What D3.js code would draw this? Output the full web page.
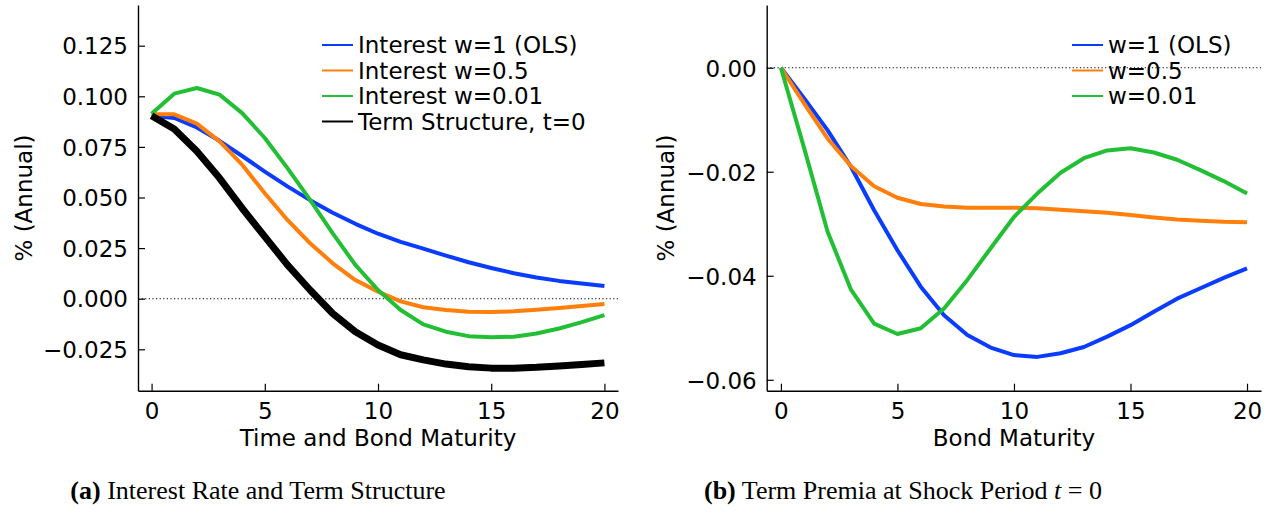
<!DOCTYPE html>
<html>
<head>
<meta charset="utf-8">
<script src="https://cdn.jsdelivr.net/npm/d3@7"></script>
<style>
  html, body { margin: 0; padding: 0; background: #fff; }
  svg { display: block; }
  .tick text, .lbl, .leg { font-family: "DejaVu Sans", sans-serif; font-size: 23px; fill: #000; }
  .cap { font-family: "Liberation Serif", serif; font-size: 26px; fill: #000; }
</style>
</head>
<body>
<svg id="chart" width="1274" height="517"></svg>
<script>
// ---------- data ----------
const maturities = [0,1,2,3,4,5,6,7,8,9,10,11,12,13,14,15,16,17,18,19,20];

// Panel (a): Interest Rate and Term Structure
const interestOLS = [0.0904,0.0893,0.0846,0.0780,0.0705,0.0628,0.0555,0.0487,0.0425,0.0370,0.0321,0.0281,0.0247,0.0213,0.0180,0.0152,0.0126,0.0105,0.0088,0.0075,0.0063];
const interestW05 = [0.0911,0.0911,0.0865,0.0777,0.0662,0.0521,0.0389,0.0274,0.0175,0.0092,0.0035,-0.0013,-0.0042,-0.0056,-0.0065,-0.0066,-0.0062,-0.0055,-0.0046,-0.0036,-0.0026];
const interestW001 = [0.0914,0.1013,0.1041,0.1008,0.0917,0.0794,0.0645,0.0488,0.0323,0.0167,0.0043,-0.0056,-0.0127,-0.0163,-0.0185,-0.0191,-0.0188,-0.0172,-0.0147,-0.0116,-0.0081];
const termStructure = [0.0904,0.0838,0.0728,0.0596,0.0447,0.0307,0.0167,0.0043,-0.0073,-0.0163,-0.0229,-0.0277,-0.0302,-0.0323,-0.0336,-0.0343,-0.0343,-0.0339,-0.0332,-0.0325,-0.0317];

// Panel (b): Term Premia at Shock Period t = 0
const premiaOLS = [0,-0.0059,-0.0120,-0.0190,-0.0274,-0.0351,-0.0421,-0.0476,-0.0514,-0.0538,-0.05525,-0.0556,-0.0549,-0.0537,-0.0517,-0.0495,-0.0469,-0.0444,-0.0424,-0.0404,-0.0386];
const premiaW05 = [0,-0.0069,-0.0136,-0.0189,-0.0228,-0.0250,-0.0262,-0.0267,-0.0269,-0.0269,-0.0269,-0.0270,-0.0273,-0.0276,-0.0279,-0.0283,-0.0288,-0.0292,-0.0294,-0.0296,-0.0297];
const premiaW001 = [0,-0.0155,-0.0315,-0.0426,-0.0492,-0.0512,-0.0501,-0.0463,-0.0408,-0.0347,-0.0287,-0.0242,-0.0202,-0.0174,-0.0159,-0.0155,-0.0163,-0.0177,-0.0197,-0.0218,-0.0242];

const leftLegend = ["Interest w=1 (OLS)","Interest w=0.5","Interest w=0.01","Term Structure, t=0"];
const rightLegend = ["w=1 (OLS)","w=0.5","w=0.01"];
const xTicks = [0,5,10,15,20];
const leftYTicks = [-0.025,0,0.025,0.05,0.075,0.1,0.125];
const rightYTicks = [-0.06,-0.04,-0.02,0];
const xLabelLeft = "Time and Bond Maturity";
const xLabelRight = "Bond Maturity";
const yLabel = "% (Annual)";

// ---------- styling ----------
const BLUE = "#0a3cff", ORANGE = "#ff7f0a", GREEN = "#22bf35", BLACK = "#000000";

const svg = d3.select("#chart");

function panel(cfg) {
  const g = svg.append("g");
  const x = d3.scaleLinear().domain(cfg.xDomain).range(cfg.xRange);
  const y = d3.scaleLinear().domain(cfg.yDomain).range([390.7, 5]);

  // zero reference line
  g.append("line")
    .attr("x1", cfg.xRange[0]).attr("x2", cfg.xRange[1])
    .attr("y1", y(0)).attr("y2", y(0))
    .attr("stroke", "#000").attr("stroke-width", 1.1)
    .attr("stroke-dasharray", "1.2,2.4");

  const line = d3.line().x((d, i) => x(maturities[i])).y(d => y(d));
  cfg.series.forEach(s => {
    g.append("path").datum(s.values)
      .attr("d", line).attr("fill", "none")
      .attr("stroke", s.color).attr("stroke-width", s.width)
      .attr("stroke-linejoin", "round").attr("stroke-linecap", "butt");
  });

  // axes
  const ya = g.append("g").attr("transform", `translate(${cfg.xRange[0]},0)`)
    .call(d3.axisLeft(y).tickValues(cfg.yTicks).tickFormat(d3.format(cfg.yFmt))
      .tickSizeInner(-7).tickSizeOuter(0).tickPadding(10));
  const xa = g.append("g").attr("transform", `translate(0,390.7)`)
    .call(d3.axisBottom(x).tickValues(xTicks).tickFormat(d3.format("d"))
      .tickSizeInner(-7).tickSizeOuter(0).tickPadding(12));
  [ya, xa].forEach(a => {
    a.select(".domain").attr("stroke", "#000").attr("stroke-width", 1.4);
    a.selectAll(".tick line").attr("stroke", "#000").attr("stroke-width", 1.2);
    a.selectAll(".tick text").attr("font-family", null).attr("font-size", null);
  });
  xa.selectAll(".tick text").attr("dy", "0.71em");
  ya.selectAll(".tick text").attr("dy", "0.36em");

  // axis titles
  g.append("text").attr("class", "lbl")
    .attr("x", (x(0) + x(20)) / 2).attr("y", 446)
    .attr("text-anchor", "middle").text(cfg.xLabel);
  g.append("text").attr("class", "lbl")
    .attr("transform", `translate(${cfg.yLabelX},198) rotate(-90)`)
    .attr("text-anchor", "middle").attr("dy", "0.36em").text(yLabel);

  // legend
  cfg.legend.forEach((name, i) => {
    const ly = 45 + i * 25.5;
    g.append("line").attr("x1", cfg.legX).attr("x2", cfg.legX + 31)
      .attr("y1", ly).attr("y2", ly)
      .attr("stroke", cfg.series[i].color).attr("stroke-width", 2);
    g.append("text").attr("class", "leg")
      .attr("x", cfg.legX + 36).attr("y", ly).attr("dy", "0.36em").text(name);
  });

  // caption
  const cap = g.append("text").attr("class", "cap")
    .attr("x", cfg.capX).attr("y", 499).attr("text-anchor", "middle");
  cfg.caption(cap);
}

panel({
  xDomain: [-0.6, 20.6], xRange: [138, 618],
  yDomain: [-0.04545, 0.1451], yTicks: leftYTicks, yFmt: ".3f",
  series: [
    { values: interestOLS, color: BLUE, width: 4 },
    { values: interestW05, color: ORANGE, width: 4 },
    { values: interestW001, color: GREEN, width: 4 },
    { values: termStructure, color: BLACK, width: 7 }
  ],
  legend: leftLegend, legX: 322,
  xLabel: xLabelLeft, yLabelX: 24,
  capX: 258,
  caption: t => {
    t.append("tspan").attr("font-weight", "bold").text("(a)");
    t.append("tspan").text(" Interest Rate and Term Structure");
  }
});

panel({
  xDomain: [-0.61, 20.6], xRange: [766.7, 1261],
  yDomain: [-0.0621, 0.01206], yTicks: rightYTicks, yFmt: ".2f",
  series: [
    { values: premiaOLS, color: BLUE, width: 4 },
    { values: premiaW05, color: ORANGE, width: 4 },
    { values: premiaW001, color: GREEN, width: 4 }
  ],
  legend: rightLegend, legX: 1072,
  xLabel: xLabelRight, yLabelX: 666,
  capX: 903,
  caption: t => {
    t.append("tspan").attr("font-weight", "bold").text("(b)");
    t.append("tspan").text(" Term Premia at Shock Period ");
    t.append("tspan").attr("font-style", "italic").text("t");
    t.append("tspan").text(" = 0");
  }
});
</script>
</body>
</html>
